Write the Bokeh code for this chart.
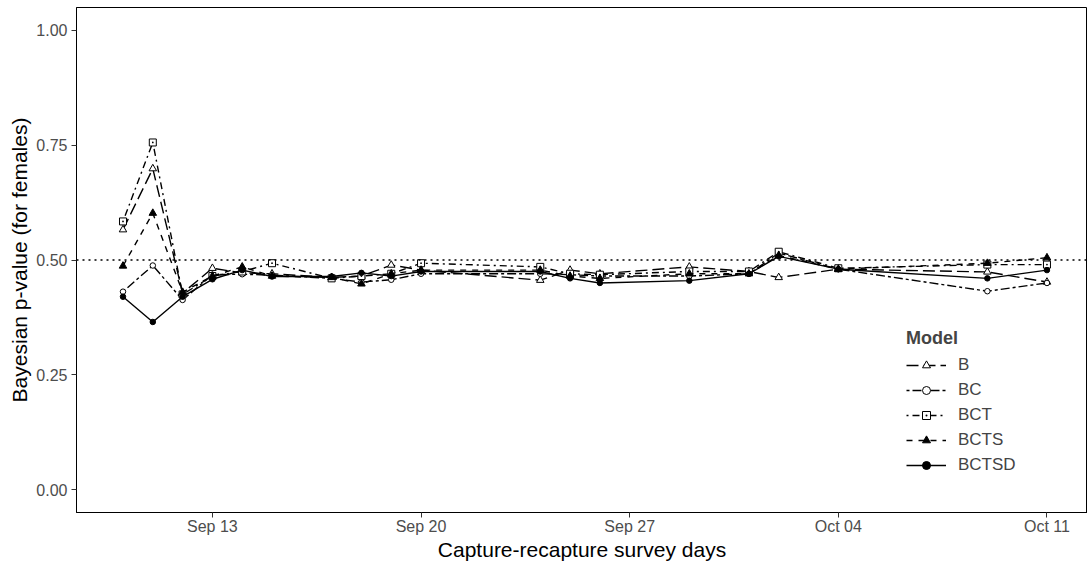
import pandas as pd
from bokeh.plotting import figure
from bokeh.models import (Range1d, FixedTicker, DatetimeTickFormatter, NumeralTickFormatter,
                          Span, Legend, LegendItem)
from bokeh.embed import file_html
from bokeh.resources import INLINE

# ---------------- data ----------------
dates = ["2021-09-10", "2021-09-11", "2021-09-12", "2021-09-13", "2021-09-14", "2021-09-15",
         "2021-09-17", "2021-09-18", "2021-09-19", "2021-09-20", "2021-09-24", "2021-09-25",
         "2021-09-26", "2021-09-29", "2021-10-01", "2021-10-02", "2021-10-04", "2021-10-09",
         "2021-10-11"]

B     = [0.566, 0.699, 0.428, 0.482, 0.472, 0.470, 0.462, 0.465, 0.489, 0.478, 0.456, 0.478,
         0.470, 0.485, 0.475, 0.462, 0.480, 0.474, 0.452]
BC    = [0.431, 0.488, 0.413, 0.468, 0.469, 0.467, 0.460, 0.452, 0.457, 0.470, 0.470, 0.468,
         0.465, 0.465, 0.470, 0.515, 0.480, 0.432, 0.450]
BCT   = [0.584, 0.756, 0.425, 0.465, 0.475, 0.493, 0.460, 0.465, 0.470, 0.493, 0.485, 0.470,
         0.468, 0.475, 0.475, 0.518, 0.482, 0.490, 0.490]
BCTS  = [0.487, 0.602, 0.430, 0.465, 0.485, 0.465, 0.462, 0.448, 0.470, 0.478, 0.478, 0.465,
         0.460, 0.470, 0.470, 0.510, 0.480, 0.493, 0.505]
BCTSD = [0.420, 0.365, 0.420, 0.458, 0.478, 0.464, 0.464, 0.472, 0.465, 0.475, 0.475, 0.460,
         0.450, 0.455, 0.470, 0.508, 0.480, 0.460, 0.478]

models = ["B", "BC", "BCT", "BCTS", "BCTSD"]
series = [B, BC, BCT, BCTS, BCTSD]

tick_dates = ["2021-09-13", "2021-09-20", "2021-09-27", "2021-10-04", "2021-10-11"]
y_ticks = [0.0, 0.25, 0.5, 0.75, 1.0]
ref_level = 0.5

# ---------------- styles ----------------
dashes = {"B": "12 5", "BC": "3 3 9 3", "BCT": "2 4 7 4", "BCTS": "6 6", "BCTSD": "solid"}
markers = {"B": ("triangle", "white", 7.5), "BC": ("circle", "white", 5.5),
           "BCT": ("square_dot", "white", 7), "BCTS": ("triangle", "black", 7.5),
           "BCTSD": ("circle", "black", 5.5)}

FONT = "Liberation Sans"

x = pd.to_datetime(dates)
x0 = pd.Timestamp(dates[0]) - pd.Timedelta(days=1.56)
x1 = pd.Timestamp(dates[-1]) + pd.Timedelta(days=1.36)

p = figure(width=1087, height=563, output_backend="svg", toolbar_location=None,
           x_axis_type="datetime",
           x_range=Range1d(x0, x1), y_range=Range1d(-0.05, 1.05),
           min_border_left=76, min_border_right=0, min_border_top=7, min_border_bottom=51)

p.xgrid.visible = False
p.ygrid.visible = False
p.outline_line_color = "black"
p.outline_line_width = 1
p.background_fill_color = "white"
p.border_fill_color = "white"

p.add_layout(Span(location=ref_level, dimension="width", line_color="black",
                  line_dash="2 4", line_width=1.5))

items = []
for name, ys in zip(models, series):
    r1 = p.line(x, ys, line_color="black", line_width=1.4, line_dash=dashes[name])
    mk, fill, sz = markers[name]
    r2 = p.scatter(x, ys, marker=mk, size=sz, line_color="black", fill_color=fill,
                   line_width=1)
    items.append(LegendItem(label=name, renderers=[r1, r2]))

legend = Legend(items=items, location=(830, 37), title="Model")
legend.title_text_font = FONT
legend.title_text_font_style = "bold"
legend.title_text_font_size = "18px"
legend.label_text_font = FONT
legend.label_text_font_size = "17px"
legend.border_line_color = None
legend.background_fill_alpha = 0
legend.glyph_width = 40
legend.glyph_height = 20
legend.label_standoff = 12
legend.label_height = 20
legend.spacing = 5
legend.padding = 8
legend.title_standoff = 6
p.add_layout(legend)

# axes
p.xaxis.ticker = FixedTicker(ticks=[pd.Timestamp(d).value // 10**6 for d in tick_dates])
fmt = "%b %d"
p.xaxis.formatter = DatetimeTickFormatter(days=fmt, months=fmt, hours=fmt, years=fmt,
                                          microseconds=fmt, milliseconds=fmt, seconds=fmt,
                                          minsec=fmt, minutes=fmt, hourmin=fmt)
p.yaxis.ticker = FixedTicker(ticks=y_ticks)
p.yaxis.formatter = NumeralTickFormatter(format="0.00")

p.xaxis.axis_label = "Capture-recapture survey days"
p.yaxis.axis_label = "Bayesian p-value (for females)"
for ax in (p.xaxis, p.yaxis):
    ax.axis_label_text_font = FONT
    ax.axis_label_text_font_size = "21px"
    ax.axis_label_text_font_style = "normal"
    ax.axis_label_text_color = "black"
    ax.major_label_text_font = FONT
    ax.major_label_text_font_size = "16px"
    ax.major_label_text_color = "#4D4D4D"
    ax.major_tick_in = 0
    ax.major_tick_out = 5
    ax.major_tick_line_color = "#333333"
    ax.minor_tick_line_color = None
    ax.axis_line_color = "black"
p.xaxis.major_label_standoff = 0
p.xaxis.axis_label_standoff = 0
p.yaxis.major_label_standoff = 4
p.yaxis.axis_label_standoff = 2

open("out.html", "w").write(file_html(p, INLINE))
